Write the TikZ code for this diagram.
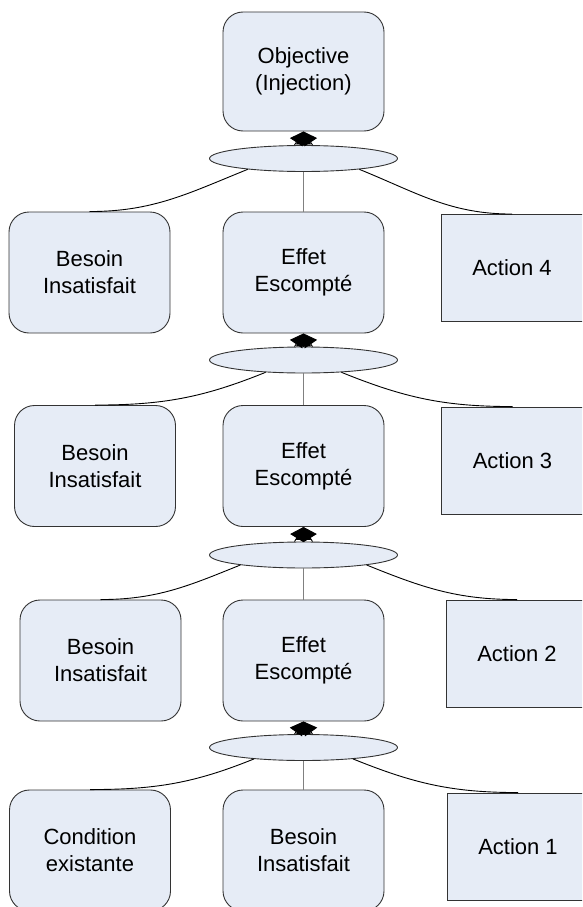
\documentclass[tikz,border=0pt]{standalone}
\usepackage{fontspec}
\setmainfont{Liberation Sans}
\usetikzlibrary{shapes,arrows.meta,positioning}

\definecolor{boxfill}{HTML}{E6ECF6}
\definecolor{boxline}{HTML}{333333}

\tikzset{
  effbox/.style={draw=boxline,fill=boxfill,rounded corners=20pt,minimum width=161pt,minimum height=121pt,inner sep=0pt,align=center,font=\fontsize{22}{27}\selectfont},
  actbox/.style={draw=boxline,fill=boxfill,minimum width=142pt,minimum height=107pt,inner sep=0pt,align=center,font=\fontsize{22}{27}\selectfont},
  junc/.style={draw=boxline,fill=boxfill,ellipse,minimum width=188pt,minimum height=26pt,inner sep=0pt}
}

\begin{document}
\begin{tikzpicture}[x=1pt,y=1pt,line width=0.9pt]
\useasboundingbox (0,0) rectangle (582,-907);
\clip (0,0) rectangle (582,-907);

\node[effbox,minimum height=119pt] (C0) at (303.5,-71.5) {Objective\\(Injection)};

\foreach \n/\yb/\xl/\xa/\ya/\yj/\al/\ar/\tl/\tc in
  {1/272.5/89.5/512/268/158.5/191/349/{Besoin\\Insatisfait}/{Effet\\Escompté},
   2/466/95/512.5/460.5/360/198/342/{Besoin\\Insatisfait}/{Effet\\Escompté},
   3/660.5/100.5/517/653.5/555/189/351/{Besoin\\Insatisfait}/{Effet\\Escompté},
   4/850.5/90/518/846.5/747.5/193/347/{Condition\\existante}/{Besoin\\Insatisfait}}
{
  \pgfmathtruncatemacro{\Up}{\n-1}
  \pgfmathtruncatemacro{\ActNum}{5-\n}
  \node[effbox] (L\n) at (\xl,-\yb) {\tl};
  \node[effbox] (C\n) at (303.5,-\yb) {\tc};
  \node[actbox] (A\n) at (\xa,-\ya) {Action \ActNum};
  \node[junc] (J\n) at (303.5,-\yj) {};

  \draw[gray] (J\n.south) -- (C\n.north);
  \draw (J\n.\al) to[out=202,in=0] (L\n.north);
  \draw (J\n.\ar) to[out=-22,in=180] (A\n.north);

  \foreach \d in {-9,0,9}
    \draw[-{Triangle[length=13pt,width=15pt]}] ([xshift=\d pt]J\n.north) -- (C\Up.south);
}
\end{tikzpicture}
\end{document}
